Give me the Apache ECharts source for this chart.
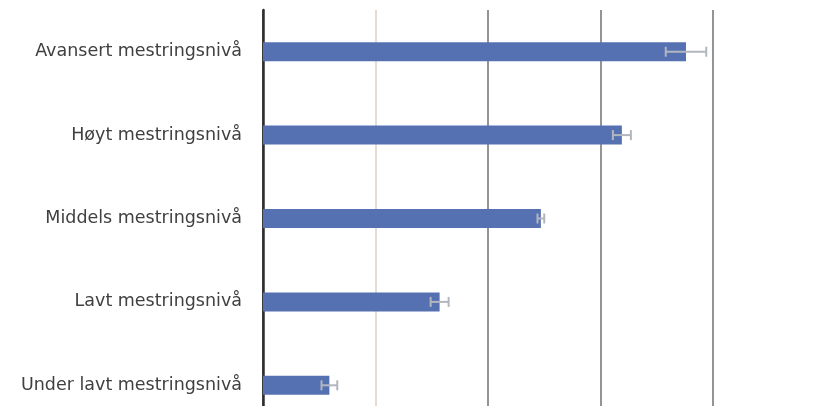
<!DOCTYPE html>
<html>
<head>
<meta charset="utf-8">
<script src="https://cdn.jsdelivr.net/npm/echarts@6/dist/echarts.min.js"></script>
<style>html,body{margin:0;padding:0;background:#fff;overflow:hidden;width:819px;height:406px;}#c{width:819px;height:427px;}</style>
</head>
<body>
<div id="c"></div>
<script>
const categories = ['Avansert mestringsnivå', 'Høyt mestringsnivå', 'Middels mestringsnivå', 'Lavt mestringsnivå', 'Under lavt mestringsnivå'];
const values = [376, 319, 247, 157, 59];
const errors = [18, 8, 3, 8, 7];
const xTicks = [0, 100, 200, 300, 400];

const chart = echarts.init(document.getElementById('c'), null, {renderer: 'canvas'});
const errData = values.map((v, i) => [i, v - errors[i], v + errors[i]]);

chart.setOption({
  animation: false,
  grid: {left: 263, width: 450, top: 10, bottom: 0, containLabel: false},
  xAxis: {
    type: 'value', min: xTicks[0], max: xTicks[xTicks.length - 1], interval: 100,
    axisLabel: {show: false}, axisTick: {show: false}, axisLine: {show: false},
    splitLine: {show: true, lineStyle: {color: ['#333333', '#ddd0c8', '#707070', '#707070', '#707070'], width: 1.5}}
  },
  yAxis: {
    type: 'category', data: categories, inverse: true,
    axisTick: {show: false},
    axisLine: {show: true, lineStyle: {color: '#2e2e2e', width: 2.5}},
    axisLabel: {color: '#404040', fontFamily: 'DejaVu Sans', fontSize: 17.5, margin: 21}
  },
  series: [
    {
      type: 'bar', data: values, barWidth: 19,
      itemStyle: {color: '#5671b2'}
    },
    {
      type: 'custom', data: errData, z: 10,
      renderItem: function (params, api) {
        const y = api.value(0);
        const lo = api.coord([api.value(1), y]);
        const hi = api.coord([api.value(2), y]);
        const h = 5;
        const style = {stroke: '#b2b6be', lineWidth: 2};
        return {
          type: 'group',
          children: [
            {type: 'line', shape: {x1: lo[0], y1: lo[1], x2: hi[0], y2: hi[1]}, style: style},
            {type: 'line', shape: {x1: lo[0], y1: lo[1] - h, x2: lo[0], y2: lo[1] + h}, style: style},
            {type: 'line', shape: {x1: hi[0], y1: hi[1] - h, x2: hi[0], y2: hi[1] + h}, style: style}
          ]
        };
      }
    }
  ]
});
</script>
</body>
</html>
